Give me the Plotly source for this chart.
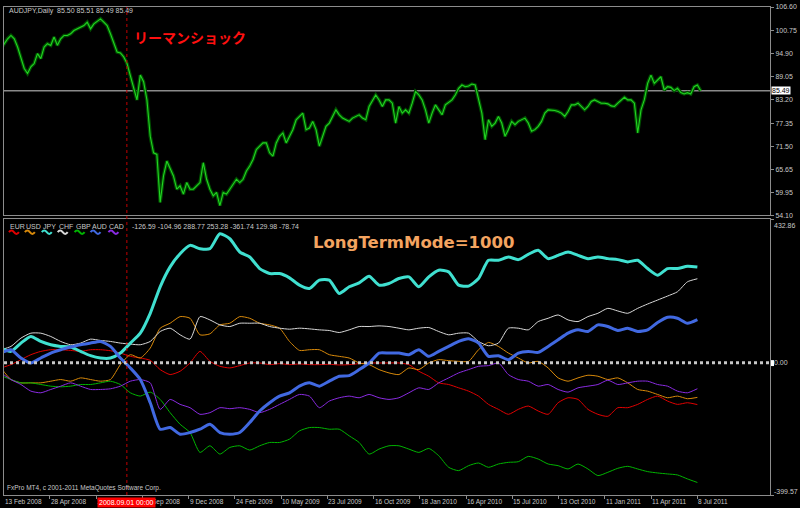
import numpy as np
import plotly.graph_objects as go

# ---------------- data ----------------
AUDJPY = [
    96.10, 97.35, 98.60, 99.43, 98.60, 96.52, 94.02, 91.10, 89.85, 91.52,
    92.35, 94.85, 93.60, 96.52, 97.35, 96.93, 99.02, 96.93, 98.60, 99.43,
    99.43, 99.85, 100.68, 101.10, 101.52, 101.93, 102.77, 101.10, 102.35, 103.02,
    103.60, 102.77, 101.93, 99.85, 97.77, 95.27, 95.02, 94.02, 92.35, 89.43,
    86.10, 83.18, 89.43, 87.77, 83.18, 74.02, 69.85, 69.43, 57.35, 64.02,
    67.77, 65.68, 64.02, 60.68, 61.52, 59.43, 62.35, 60.68, 60.68, 61.52,
    62.35, 67.35, 63.18, 60.68, 59.02, 59.85, 56.52, 59.85, 59.43, 60.68,
    61.93, 63.18, 62.35, 63.18, 65.27, 66.52, 68.18, 70.68, 71.52, 72.35,
    72.35, 69.85, 69.02, 72.35, 74.02, 74.85, 72.35, 74.02, 75.68, 78.18,
    79.02, 79.85, 75.68, 76.10, 77.77, 75.68, 71.52, 74.02, 76.52, 77.35,
    79.02, 80.68, 79.43, 78.60, 78.18, 77.77, 78.60, 79.02, 79.43, 78.60,
    78.18, 81.52, 83.18, 84.43, 83.18, 81.52, 83.18, 83.18, 82.35, 77.35,
    81.52, 79.85, 80.68, 79.85, 82.35, 85.27, 84.43, 83.18, 80.68, 77.35,
    79.85, 81.93, 80.68, 79.43, 81.93, 82.60, 83.18, 84.43, 86.10, 86.93,
    86.52, 86.68, 87.18, 86.93, 83.18, 79.85, 73.18, 78.18, 76.52, 77.35,
    79.02, 77.35, 74.02, 75.68, 77.77, 76.93, 77.77, 78.18, 78.60, 77.35,
    75.27, 75.68, 76.52, 77.77, 79.85, 80.68, 80.68, 80.52, 80.27, 79.85,
    79.02, 80.27, 81.93, 81.93, 82.35, 81.52, 80.68, 81.52, 82.77, 83.18,
    82.77, 82.35, 82.35, 82.18, 81.68, 81.52, 82.35, 83.18, 83.85, 83.18,
    83.18, 82.35, 74.85, 80.68, 83.18, 87.35, 89.43, 87.35, 88.18, 89.02,
    85.68, 86.52, 86.35, 85.52, 86.10, 85.02, 84.68, 85.02, 84.68, 86.52,
    86.93, 85.49,
]

EUR = [
    -16, -6, 9, 24, 34, 39, 39, 37, 34, 39,
    39, 36, 29, 19, 14, 7, -21, -36, -26, -1,
    34, 4, -11, -16, -9, -1, -1, -6, -3, -6,
    -4, -6, -6, -5, -7, -6, -3, -1, -1, -1,
    -1, -6, -26, -41, -61, -66, -76, -86, -101, -126,
    -141, -156, -141, -131, -146, -156, -121, -106, -111, -141,
    -156, -162, -136, -136, -126, -111, -101, -116, -126, -121,
    -126.59,
]
USD = [
    -16, -51, -61, -61, -61, -56, -51, -56, -46, -51,
    -56, -51, -6, 24, 14, 44, 104, 119, 139, 134,
    84, 87, 114, 119, 139, 134, 119, 114, 104, 64,
    37, 39, 39, 24, 19, 14, -1, -6, -21, -31,
    -36, -16, -21, -1, 9, 6, 4, 4, 39, 61,
    49, 29, 14, -1, 4, -16, -46, -56, -46, -38,
    -41, -51, -46, -61, -81, -86, -96, -106, -101, -109,
    -104.96,
]
JPY = [
    44, 34, 59, 79, 64, 54, 49, 47, 34, 21,
    14, 14, 29, 59, 89, 149, 229, 289, 329, 354,
    344, 344, 389, 374, 334, 319, 284, 269, 269, 256,
    234, 224, 249, 249, 209, 229, 241, 261, 234, 239,
    254, 259, 229, 259, 279, 274, 234, 231, 254, 309,
    309, 319, 311, 327, 339, 314, 324, 334, 324, 314,
    319, 314, 311, 304, 309, 284, 264, 284, 284, 291,
    288.77,
]
CHF = [
    39, 49, 74, 89, 89, 79, 64, 54, 59, 71,
    67, 64, 59, 56, 54, 64, 94, 104, 84, 71,
    139, 129, 114, 109, 119, 119, 119, 109, 104, 101,
    104, 102, 99, 97, 91, 99, 109, 109, 111, 109,
    104, 99, 104, 106, 94, 84, 89, 89, 64, 51,
    59, 104, 104, 99, 124, 134, 144, 129, 124, 139,
    149, 164, 156, 149, 164, 177, 189, 201, 214, 244,
    253.28,
]
GBP = [
    -39, -51, -61, -61, -66, -71, -73, -71, -66, -66,
    -61, -56, -66, -91, -101, -89, -111, -151, -186, -211,
    -271, -251, -276, -256, -251, -264, -251, -241, -241, -231,
    -206, -196, -196, -201, -201, -221, -241, -276, -261, -251,
    -251, -261, -271, -259, -281, -316, -326, -311, -303, -316,
    -306, -301, -299, -283, -291, -306, -311, -321, -306, -321,
    -341, -331, -319, -313, -321, -329, -333, -336, -339, -351,
    -361.74,
]
AUD = [
    29, 39, 14, -1, 14, 29, 39, 47, 54, 59,
    64, 49, 14, -16, -51, -121, -201, -196, -216, -211,
    -201, -186, -211, -216, -211, -181, -146, -121, -101, -91,
    -71, -61, -71, -56, -41, -39, -21, -1, 29, 29,
    29, 24, 39, 19, 34, 49, 64, 72, 59, 19,
    21, 9, 29, 34, 31, 49, 69, 89, 99, 94,
    114, 109, 97, 104, 94, 99, 121, 137, 134, 119,
    129.98,
]
CAD = [
    -31, -51, -66, -86, -91, -81, -71, -61, -71, -81,
    -81, -79, -71, -56, -51, -61, -141, -111, -126, -136,
    -156, -151, -136, -139, -136, -141, -151, -141, -126, -111,
    -96, -101, -136, -116, -106, -101, -106, -96, -106, -111,
    -106, -91, -76, -81, -61, -46, -31, -21, -11, -9,
    -1, -36, -51, -56, -71, -66, -81, -89, -76, -71,
    -66, -53, -66, -61, -56, -56, -66, -71, -86, -91,
    -78.74,
]

CURRENCIES = ["EUR", "USD", "JPY", "CHF", "GBP", "AUD", "CAD"]
SERIES = {"EUR": EUR, "USD": USD, "JPY": JPY, "CHF": CHF, "GBP": GBP, "AUD": AUD, "CAD": CAD}
LEGEND_VALUES = ["-126.59", "-104.96", "288.77", "253.28", "-361.74", "129.98", "-78.74"]

DATE_LABELS = ["13 Feb 2008", "28 Apr 2008", "11 Jul 2008", "22 Sep 2008", "9 Dec 2008",
               "24 Feb 2009", "10 May 2009", "23 Jul 2009", "16 Oct 2009", "18 Jan 2010",
               "16 Apr 2010", "15 Jul 2010", "13 Oct 2010", "11 Jan 2011", "11 Apr 2011",
               "8 Jul 2011"]
TOP_TICKS = [106.60, 100.75, 94.90, 89.05, 83.20, 77.35, 71.50, 65.65, 59.95, 54.10]
LOW_TICKS = [432.86, 0.00, -399.57]
LAST_PRICE = 85.49

# ---------------- styles / geometry ----------------
COLORS = {"EUR": "#e00000", "USD": "#d8890a", "JPY": "#40e0d0", "CHF": "#d8d8d8",
          "GBP": "#00b400", "AUD": "#4169e1", "CAD": "#8a2be2"}
WIDTHS = {"EUR": 1, "USD": 1, "JPY": 3, "CHF": 1, "GBP": 1, "AUD": 3, "CAD": 1}
DRAW_ORDER = ["EUR", "USD", "CHF", "GBP", "CAD", "JPY", "AUD"]

TOP_STEP = 10 / 3     # bar spacing of the price series
LOW_STEP = 10         # bar spacing of the strength series
TICK0, TICK_STEP = 2.7, 46.49
LEHMAN_X = 126.5
XR = [3, 773]
FRAME = "#8c8c8c"
TXT = "#c8c8c8"
SMALL = "Tahoma, Liberation Sans, Arial, sans-serif"


def PX(px):
    return (px - 3) / 770


def PY(py):
    return (495 - py) / 492


fig = go.Figure()

x_top = np.arange(len(AUDJPY)) * TOP_STEP
fig.add_trace(go.Scatter(x=x_top, y=AUDJPY, xaxis="x2", yaxis="y2", mode="lines",
                         line=dict(color="#004e00", width=3.5), hoverinfo="skip"))
fig.add_trace(go.Scatter(x=x_top, y=AUDJPY, xaxis="x2", yaxis="y2", mode="lines",
                         line=dict(color="#22d422", width=1.1), hoverinfo="skip"))

for name in DRAW_ORDER:
    vals = SERIES[name]
    xs = np.arange(len(vals)) * LOW_STEP
    fig.add_trace(go.Scatter(x=xs, y=vals, xaxis="x", yaxis="y", mode="lines",
                             line=dict(color=COLORS[name], width=WIDTHS[name],
                                       shape="spline", smoothing=0.6),
                             hoverinfo="skip"))

shapes = []
shapes.append(dict(type="line", xref="paper", x0=0, x1=1, yref="y2", y0=LAST_PRICE, y1=LAST_PRICE,
                   line=dict(color="#8a8a8a", width=1.5), layer="below"))
shapes.append(dict(type="line", xref="paper", x0=0, x1=1, yref="y", y0=0, y1=0,
                   line=dict(color="#c8c8c8", width=3, dash="dot"), layer="above"))
shapes.append(dict(type="line", xref="x", x0=LEHMAN_X, x1=LEHMAN_X, yref="paper", y0=0, y1=1,
                   line=dict(color="#c00000", width=1, dash="dot"), layer="above"))
LEG_X = [7, 23, 40, 56, 73, 89, 107]
for name, lx in zip(CURRENCIES, LEG_X):
    x0 = lx + 1
    path = (f"M {PX(x0)},{PY(230)} Q {PX(x0 + 2.5)},{PY(226.5)} {PX(x0 + 5)},{PY(230)} "
            f"T {PX(x0 + 10)},{PY(230)}")
    shapes.append(dict(type="path", xref="paper", yref="paper", path=path,
                       line=dict(color=COLORS[name], width=2)))
# small level marker at 0.00 on the right scale
shapes.append(dict(type="rect", xref="paper", yref="paper", x0=PX(774), x1=PX(777),
                   y0=PY(365), y1=PY(359), fillcolor="white", line=dict(width=0)))

ann = []
ann.append(dict(text="AUDJPY,Daily  85.50 85.51 85.49 85.49", xref="paper", yref="paper",
                x=PX(6), y=PY(7.5), xanchor="left", yanchor="middle", showarrow=False,
                font=dict(family=SMALL, size=7, color=TXT)))
ann.append(dict(text="<b>リーマンショック</b>", xref="paper", yref="paper",
                x=PX(132), y=PY(33), xanchor="left", yanchor="middle", showarrow=False,
                font=dict(family="Noto Sans CJK JP", size=14, color="#ff1010")))
for name, lx in zip(CURRENCIES, LEG_X):
    ann.append(dict(text=name, xref="paper", yref="paper", x=PX(lx), y=PY(224),
                    xanchor="left", yanchor="middle", showarrow=False,
                    font=dict(family=SMALL, size=7, color=TXT)))
ann.append(dict(text=" ".join(LEGEND_VALUES), xref="paper", yref="paper", x=PX(130), y=PY(224),
                xanchor="left", yanchor="middle", showarrow=False,
                font=dict(family=SMALL, size=7, color=TXT)))
ann.append(dict(text="<b>LongTermMode=1000</b>", xref="paper", yref="paper", x=PX(312), y=PY(240),
                xanchor="left", yanchor="middle", showarrow=False,
                font=dict(family="DejaVu Sans", size=16.5, color="#f4a460")))
ann.append(dict(text="FxPro MT4, c 2001-2011 MetaQuotes Software Corp.", xref="paper", yref="paper",
                x=PX(4), y=PY(488), xanchor="left", yanchor="middle", showarrow=False,
                font=dict(family=SMALL, size=6.5, color=TXT)))
tickvals_x = [TICK0 + k * TICK_STEP for k in range(len(DATE_LABELS))]
for tv, lab in zip(tickvals_x, DATE_LABELS):
    ann.append(dict(text=lab, xref="paper", yref="paper", x=PX(tv), y=0, xanchor="left",
                    yanchor="top", yshift=-1, xshift=-1, showarrow=False,
                    font=dict(family=SMALL, size=6.5, color=TXT)))
for v, sh in zip(LOW_TICKS, [-6, 0, 4]):
    ann.append(dict(text=f"{v:.2f}", xref="paper", yref="y", x=1, y=v, xanchor="left",
                    yanchor="middle", xshift=2, yshift=sh, showarrow=False,
                    font=dict(family=SMALL, size=7, color=TXT)))
ann.append(dict(text=f"{LAST_PRICE:.2f}", xref="paper", yref="y2", x=1, y=LAST_PRICE,
                xanchor="left", yanchor="middle", xshift=1, showarrow=False, bgcolor="white",
                borderpad=0, font=dict(family=SMALL, size=7, color="black")))
ann.append(dict(text="2008.09.01 00:00", xref="x", yref="paper", x=LEHMAN_X, y=0,
                xanchor="center", yanchor="top", yshift=-2, showarrow=False, bgcolor="#ff0000",
                borderpad=1, font=dict(family=SMALL, size=7, color="white")))

fig.update_layout(
    width=800, height=508,
    margin=dict(l=3, r=27, t=3, b=13),
    paper_bgcolor="black", plot_bgcolor="black",
    showlegend=False, hovermode=False,
    xaxis=dict(domain=[0, 1], range=XR, anchor="y", showgrid=False, zeroline=False,
               showline=True, mirror=True, linecolor=FRAME, linewidth=1,
               ticks="outside", ticklen=3, tickcolor=FRAME, tickvals=tickvals_x,
               showticklabels=False),
    xaxis2=dict(domain=[0, 1], range=XR, anchor="y2", matches="x", showgrid=False,
                zeroline=False, showline=True, mirror=True, linecolor=FRAME, linewidth=1,
                showticklabels=False, ticks=""),
    yaxis=dict(domain=[0, PY(217)], range=[LOW_TICKS[-1], LOW_TICKS[0]], side="right",
               anchor="x", showgrid=False, zeroline=False, showline=True, mirror=True,
               linecolor=FRAME, linewidth=1, ticks="outside", ticklen=3, tickcolor=FRAME,
               tickvals=LOW_TICKS, showticklabels=False),
    yaxis2=dict(domain=[PY(213), 1], range=[TOP_TICKS[-1], TOP_TICKS[0]], side="right",
                anchor="x2", showgrid=False, zeroline=False, showline=True, mirror=True,
                linecolor=FRAME, linewidth=1, ticks="outside", ticklen=3, tickcolor=FRAME,
                tickvals=TOP_TICKS, ticktext=[f"{v:.2f}" for v in TOP_TICKS],
                tickfont=dict(family=SMALL, size=7, color=TXT)),
    shapes=shapes,
    annotations=ann,
)

fig.write_html("out.html", config={"displayModeBar": False},
               post_script="document.body.style.margin='0px';document.body.style.background='black';")
